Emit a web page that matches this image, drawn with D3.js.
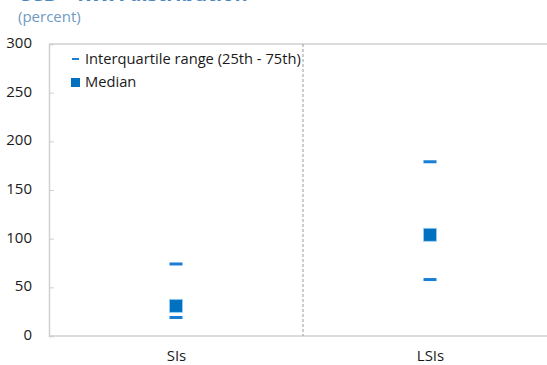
<!DOCTYPE html>
<html>
<head>
<meta charset="utf-8">
<script src="https://cdn.jsdelivr.net/npm/d3@7"></script>
<style>
  body { margin: 0; background: #fff; }
  svg { display: block; font-family: "Open Sans", "Noto Sans", sans-serif; }
</style>
</head>
<body>
<div id="chart"></div>
<script>
// categories and values (percent)
const categories = ["SIs", "LSIs"];
const q25 = [19, 58];
const median = [31, 104];
const q75 = [74, 179];
const yTicks = [0, 50, 100, 150, 200, 250, 300];

const W = 547, H = 365;
const BLUE = "#0070c0";
const DASH = "#1a7fd4";
const AXIS = "#d0d0d0";

const svg = d3.select("#chart").append("svg")
  .attr("width", W).attr("height", H);

const x = d3.scaleBand().domain(categories).range([49, 557]);
const y = d3.scaleLinear().domain([0, 300]).range([336, 44]);

// title (cut off at top) + unit
svg.append("text").attr("x", 18).attr("y", 1)
  .attr("fill", "#4a86c0").attr("font-size", 20).attr("font-weight", "bold")
  .text("CCB – RWA distribution");
svg.append("text").attr("x", 18).attr("y", 22)
  .attr("fill", "#6f9ac4").attr("font-size", 15)
  .text("(percent)");

// frame: top line, left axis, bottom axis
svg.append("line").attr("x1", 49).attr("x2", W).attr("y1", y(300)).attr("y2", y(300))
  .attr("stroke", AXIS).attr("stroke-width", 1.5);
svg.append("line").attr("x1", 49).attr("x2", W).attr("y1", y(0)).attr("y2", y(0))
  .attr("stroke", AXIS).attr("stroke-width", 1.5);

const yAxis = svg.append("g").attr("transform", "translate(49,0)")
  .call(d3.axisRight(y).tickValues(yTicks).tickSize(5).tickFormat(""));
yAxis.select(".domain").attr("stroke", AXIS).attr("stroke-width", 1.5);
yAxis.selectAll(".tick line").attr("stroke", AXIS);

svg.append("g").selectAll("text").data(yTicks).enter().append("text")
  .attr("x", 32).attr("y", d => y(d))
  .attr("text-anchor", "end").attr("dominant-baseline", "middle")
  .attr("fill", "#1a1a1a").attr("font-size", 15)
  .text(d => d);

// divider between categories
svg.append("line")
  .attr("x1", x("LSIs")).attr("x2", x("LSIs"))
  .attr("y1", y(300)).attr("y2", y(0))
  .attr("stroke", "#999").attr("stroke-width", 1).attr("stroke-dasharray", "3,2");

// category labels
svg.append("g").selectAll("text").data(categories).enter().append("text")
  .attr("x", d => x(d) + x.bandwidth() / 2 + 0.5).attr("y", 357)
  .attr("text-anchor", "middle").attr("dominant-baseline", "middle")
  .attr("fill", "#1a1a1a").attr("font-size", 15)
  .text(d => d);

// interquartile dashes
const dashes = [];
categories.forEach((c, i) => { dashes.push({ c, v: q25[i] }); dashes.push({ c, v: q75[i] }); });
svg.append("g").selectAll("rect").data(dashes).enter().append("rect")
  .attr("x", d => x(d.c) + x.bandwidth() / 2 - 6.5)
  .attr("y", d => y(d.v) - 1.5)
  .attr("width", 13).attr("height", 3)
  .attr("fill", DASH);

// medians
svg.append("g").selectAll("rect").data(categories).enter().append("rect")
  .attr("x", (d) => x(d) + x.bandwidth() / 2 - 6.5)
  .attr("y", (d, i) => y(median[i]) - 6.5)
  .attr("width", 13).attr("height", 13)
  .attr("fill", BLUE).attr("stroke", "#9cd0f0").attr("stroke-width", 0.8);

// legend
const lg = svg.append("g");
lg.append("rect").attr("x", 72).attr("y", 58).attr("width", 7).attr("height", 2).attr("fill", DASH);
lg.append("text").attr("x", 85).attr("y", 60).attr("dominant-baseline", "middle")
  .attr("fill", "#1a1a1a").attr("font-size", 14.7).text("Interquartile range (25th - 75th)");
lg.append("rect").attr("x", 71).attr("y", 78).attr("width", 9).attr("height", 9).attr("fill", BLUE);
lg.append("text").attr("x", 85).attr("y", 83).attr("dominant-baseline", "middle")
  .attr("fill", "#1a1a1a").attr("font-size", 14.7).text("Median");
</script>
</body>
</html>
